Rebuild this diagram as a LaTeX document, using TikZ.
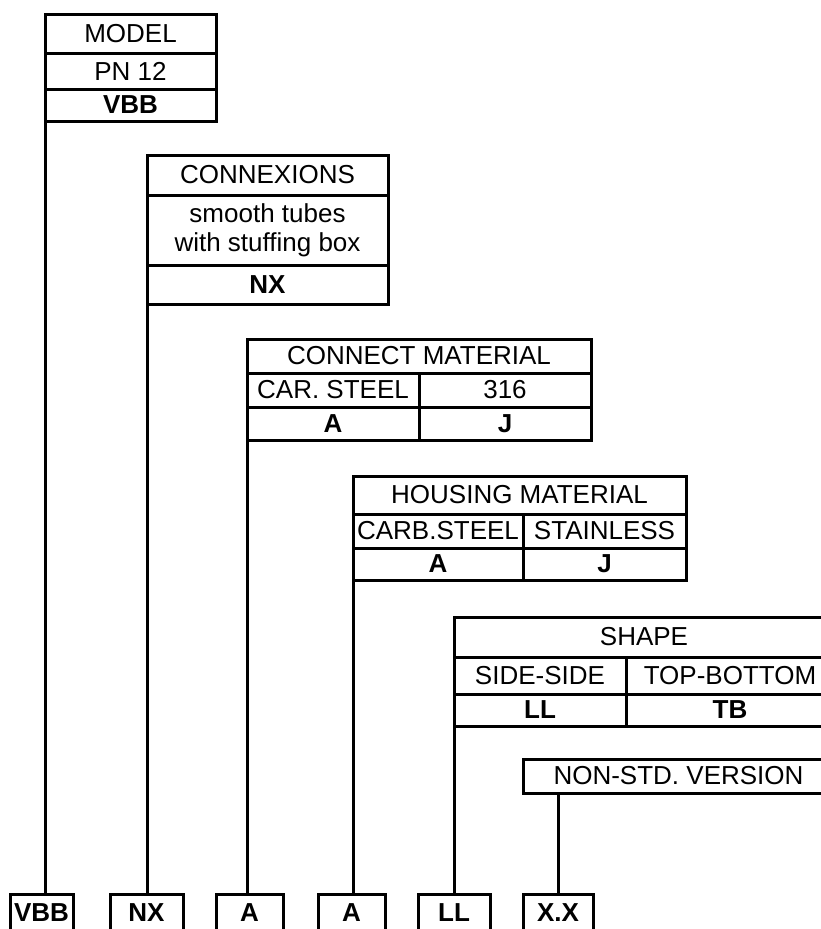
\documentclass[tikz,border=0pt]{standalone}
\usepackage{fontspec}
\setmainfont{Liberation Sans}
\usetikzlibrary{positioning}

\begin{document}
\begin{tikzpicture}[
  x=1pt, y=-1pt,
  cell/.style={rectangle, draw=black, line width=3pt, outer sep=0pt, inner sep=0pt, align=center, font=\fontsize{26}{29}\selectfont},
  code/.style={cell, font=\fontsize{26}{29}\selectfont\bfseries},
  tag/.style={code, minimum height=38},
  link/.style={draw, line width=3pt}
]
  \path [use as bounding box, clip] (0,0) rectangle (821,929);

  % model
  \node [cell, minimum width=171, minimum height=39] (model) at (130.5,33.5) {MODEL};
  \node [cell, minimum width=171, minimum height=36, below=0pt of model] (pn) {PN 12};
  \node [code, minimum width=171, minimum height=32, below=0pt of pn] (vbb) {VBB};

  % connexions
  \node [cell, minimum width=241, minimum height=40] (conn) at (267.5,175) {CONNEXIONS};
  \node [cell, minimum width=241, minimum height=70, below=0pt of conn] (tubes) {smooth tubes\\with stuffing box};
  \node [code, minimum width=241, minimum height=39, below=0pt of tubes] (nx) {NX};

  % connect material
  \node [cell, minimum width=344, minimum height=34] (cmat) at (419,356) {CONNECT MATERIAL};
  \node [cell, minimum width=172, minimum height=34, below right=0pt of cmat.south west] (csteel) {CAR. STEEL};
  \node [cell, minimum width=172, minimum height=34, right=0pt of csteel] (c316) {316};
  \node [code, minimum width=172, minimum height=33, below=0pt of csteel] (ca) {A};
  \node [code, minimum width=172, minimum height=33, below=0pt of c316] (cj) {J};

  % housing material
  \node [cell, minimum width=333, minimum height=38] (hmat) at (519.5,495) {HOUSING MATERIAL};
  \node [cell, minimum width=170, minimum height=34, below right=0pt of hmat.south west] (hsteel) {CARB.STEEL};
  \node [cell, minimum width=163, minimum height=34, right=0pt of hsteel] (hstain) {STAINLESS};
  \node [code, minimum width=170, minimum height=32, below=0pt of hsteel] (ha) {A};
  \node [code, minimum width=163, minimum height=32, below=0pt of hstain] (hj) {J};

  % shape
  \node [cell, minimum width=380, minimum height=40] (shape) at (644,637) {SHAPE};
  \node [cell, minimum width=172, minimum height=37, below right=0pt of shape.south west] (side) {SIDE-SIDE};
  \node [cell, minimum width=208, minimum height=37, right=0pt of side] (topbot) {TOP-BOTTOM};
  \node [code, minimum width=172, minimum height=32, below=0pt of side] (ll) {LL};
  \node [code, minimum width=208, minimum height=32, below=0pt of topbot] (tb) {TB};

  % non-standard version
  \node [cell, minimum width=311, minimum height=34] (nonstd) at (678.5,776) {NON-STD. VERSION};

  % resulting code
  \node [tag, minimum width=63] (out1) at (41.5,913) {VBB};
  \node [tag, minimum width=73] (out2) at (146.5,913) {NX};
  \node [tag, minimum width=67] (out3) at (249.5,913) {A};
  \node [tag, minimum width=67] (out4) at (351.5,913) {A};
  \node [tag, minimum width=72] (out5) at (454,913) {LL};
  \node [tag, minimum width=70] (out6) at (558,913) {X.X};

  \draw [link] (vbb.south west) -- (vbb.south west |- out1.north);
  \draw [link] (nx.south west) -- (nx.south west |- out2.north);
  \draw [link] (ca.south west) -- (ca.south west |- out3.north);
  \draw [link] (ha.south west) -- (ha.south west |- out4.north);
  \draw [link] (ll.south west) -- (ll.south west |- out5.north);
  \draw [link] (nonstd.south -| out6) -- (out6.north);
\end{tikzpicture}
\end{document}
